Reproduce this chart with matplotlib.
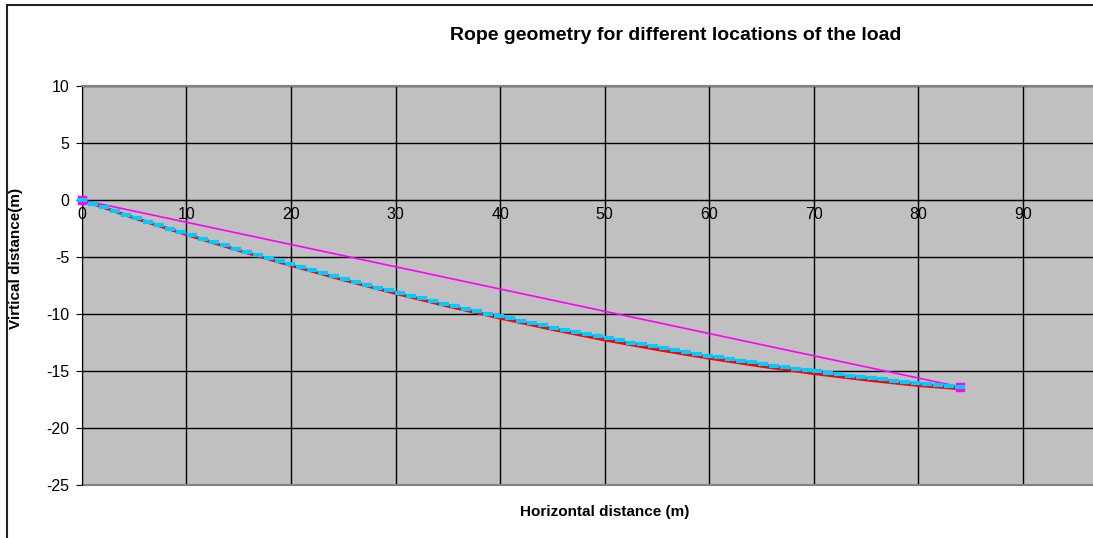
import numpy as np
import matplotlib.pyplot as plt
from matplotlib.patches import Rectangle

plt.rcParams['font.family'] = ['Liberation Sans', 'DejaVu Sans']
plt.rcParams['axes.unicode_minus'] = False

# Rope under load (cyan series): 81 points along the span
x_rope = np.linspace(0, 84, 81)
y_rope = [0.00, -0.32, -0.64, -0.96, -1.28, -1.59, -1.90, -2.20, -2.50, -2.80,
          -3.10, -3.39, -3.68, -3.97, -4.26, -4.54, -4.82, -5.09, -5.36, -5.63,
          -5.90, -6.16, -6.42, -6.68, -6.94, -7.19, -7.44, -7.68, -7.92, -8.16,
          -8.40, -8.63, -8.86, -9.09, -9.32, -9.54, -9.76, -9.97, -10.18, -10.39,
          -10.60, -10.80, -11.00, -11.20, -11.40, -11.59, -11.78, -11.96, -12.14, -12.32,
          -12.50, -12.67, -12.84, -13.01, -13.18, -13.34, -13.50, -13.65, -13.80, -13.95,
          -14.10, -14.24, -14.38, -14.52, -14.66, -14.79, -14.92, -15.04, -15.16, -15.28,
          -15.40, -15.51, -15.62, -15.73, -15.84, -15.94, -16.04, -16.13, -16.22, -16.31,
          -16.40]

# Red curve (slightly lower)
x_red = [0, 5, 10, 15, 20, 25, 30, 35, 40, 45, 50, 55, 60, 65, 70, 75, 80, 84]
y_red = [0.00, -1.57, -3.03, -4.42, -5.74, -7.00, -8.19, -9.31, -10.36, -11.35,
         -12.27, -13.11, -13.88, -14.58, -15.22, -15.78, -16.27, -16.55]

# Chord between supports (magenta)
x_chord = [0, 84]
y_chord = [0, -16.4]

fig = plt.figure(figsize=(10.93, 5.38), dpi=100)
ax = fig.add_axes([81.9 / 1093, 1 - 485 / 538, 1 - 81.9 / 1093, (485 - 86) / 538])
ax.set_facecolor('#C0C0C0')

ax.plot(x_red, y_red, color='#FF0000', lw=2.2, zorder=3)
ax.plot(x_chord, y_chord, color='#FF00FF', lw=1.2, marker='s', ms=6,
        mfc='#FF00FF', mec='#FF00FF', zorder=3, clip_on=False)
ax.plot(x_rope, y_rope, color='#3366CC', lw=0.8, marker='_', ms=7, mew=3,
        mec='#00CCFF', zorder=4, clip_on=False)

ax.set_xlim(0, 96.7)
ax.set_ylim(-25, 10)
ax.set_xticks(np.arange(0, 91, 10))
ax.set_yticks(np.arange(-25, 11, 5))
ax.grid(True, color='black', lw=1)
ax.set_axisbelow(True)

ax.spines['bottom'].set_position(('data', 0))
ax.spines['bottom'].set_color('black')
ax.spines['left'].set_color('black')
ax.spines['right'].set_visible(False)
ax.spines['top'].set_color('#808080')
ax.spines['top'].set_linewidth(1.5)
ax.axhline(-25, color='#808080', lw=1.5, clip_on=False)

ax.tick_params(axis='x', direction='out', length=3, pad=2, labelsize=11.5)
ax.tick_params(axis='y', direction='out', length=4, pad=5, labelsize=11.5)

fig.text(676 / 1093, 1 - 36 / 538, 'Rope geometry for different locations of the load',
         ha='center', va='center', fontsize=14, fontweight='bold')
fig.text(605 / 1093, 1 - 512 / 538, 'Horizontal distance (m)',
         ha='center', va='center', fontsize=11, fontweight='bold')
fig.text(16 / 1093, 1 - 258 / 538, 'Virtical distance(m)', rotation=90,
         ha='center', va='center', fontsize=11, fontweight='bold')

fig.patches.append(Rectangle((6.5 / 1093, -0.1), 1.1, 1.1 - 5.5 / 538,
                             transform=fig.transFigure, fill=False,
                             edgecolor='#222222', lw=1.5))

fig.savefig('out.png', dpi=100)
